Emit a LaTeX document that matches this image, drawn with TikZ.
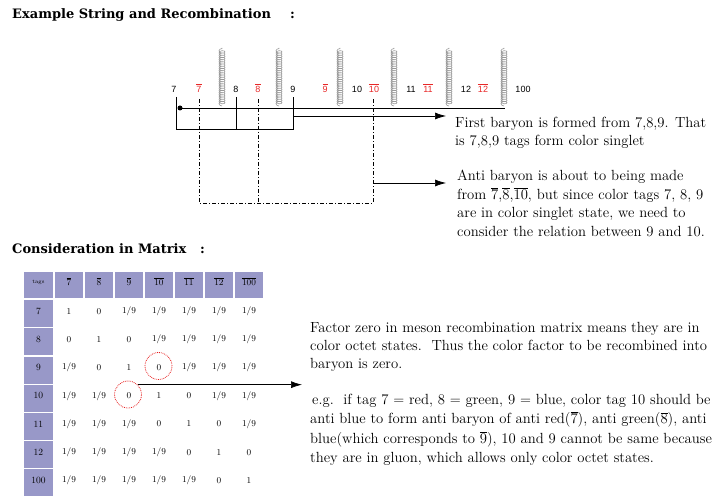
\documentclass[tikz,border=0pt]{standalone}
\usepackage{fontspec}
\newfontfamily\ttlfont{DejaVu Serif}
\newfontfamily\lblfont{Liberation Sans}
\usetikzlibrary{decorations.pathmorphing,arrows.meta}
\definecolor{hdrcol}{RGB}{152,152,200}
\definecolor{tagred}{RGB}{232,40,40}
\definecolor{ringred}{RGB}{230,30,30}
\newcommand\ob[1]{$\overline{\mbox{#1}}$}
\newcommand\mval[1]{\if n#1$1/9$\else$#1$\fi}
\begin{document}
\begin{tikzpicture}[x=1pt,y=-1pt,
  every node/.style={inner sep=0pt},
  lbl/.style={font=\lblfont\fontsize{9}{10}\selectfont},
  rlbl/.style={lbl,text=tagred},
  body/.style={font=\fontsize{14.7}{18.5}\selectfont,anchor=base west},
  ttl/.style={font=\ttlfont\bfseries\fontsize{13}{16}\selectfont,anchor=base west},
  ddash/.style={dash pattern=on 4pt off 2pt on 1pt off 2pt,line width=0.5pt},
  gluon/.style={draw=gray!80,line width=0.6pt,decorate,decoration={coil,aspect=0.6,amplitude=3pt,segment length=2.2pt}},
  arr/.style={-{Latex[length=11pt,width=7pt]},line width=0.7pt},
  cell/.style={font=\fontsize{9.5}{10}\selectfont},
  ring/.style={circle,draw=ringred,densely dotted,line width=0.8pt,minimum size=27pt}
]
\clip (0,0) rectangle (713,497);
% titles
\node[ttl] (title1) at (12,19) {Example String and Recombination};
\node[ttl] (colon1) at (290,19) {:};
\node[ttl] (title2) at (12,254) {Consideration in Matrix};
\node[ttl] (colon2) at (200,254) {:};
% gluons
\foreach \gx [count=\i] in {222,279,340,394,449,504}{
  \coordinate (gb\i) at (\gx,106);
  \coordinate (gt\i) at (\gx,48);
  \draw[gluon] (gb\i) -- (gt\i);
}
% string labels
\node[lbl] (n7) at (174,89) {7};
\node[rlbl] (n7b) at (199,88) {\ob{7}};
\node[lbl] (n8) at (236,89) {8};
\node[rlbl] (n8b) at (258,88) {\ob{8}};
\node[lbl] (n9) at (293,89) {9};
\node[rlbl] (n9b) at (325,88) {\ob{9}};
\node[lbl] (n10) at (357,89) {10};
\node[rlbl] (n10b) at (374,88) {\ob{10}};
\node[lbl] (n11) at (411,89) {11};
\node[rlbl] (n11b) at (428,88) {\ob{11}};
\node[lbl] (n12) at (466,89) {12};
\node[rlbl] (n12b) at (483,88) {\ob{12}};
\node[lbl] (n100) at (523,89) {100};
% string and box
\coordinate (q7) at (180,108);
\coordinate (qend) at (505,108);
\fill (q7) circle (2.5);
\draw[line width=0.8pt] (q7) -- (qend);
\draw[line width=0.8pt] (176,97) -- (176,129) -- (293,129) -- (293,97);
\draw[line width=0.8pt] (236,97) -- (236,129);
% dash-dot lines
\coordinate (d7) at (199,99);
\coordinate (d8) at (258,99);
\coordinate (d10) at (373,99);
\draw[ddash] (d7) -- (199,203) -- (373,203) -- (d10);
\draw[ddash] (d8) -- (258,203);
% arrows to text
\coordinate (a1s) at (293,116);
\coordinate (a1e) at (446,116);
\coordinate (a2s) at (373,183);
\coordinate (a2e) at (446,183);
\draw[arr] (a1s) -- (a1e);
\draw[arr] (a2s) -- (a2e);
% text blocks
\node[body] (t1a) at (455,128) {First baryon is formed from 7,8,9. That};
\node[body] (t1b) at (455,146) {is 7,8,9 tags form color singlet};
\node[body] (t2a) at (457,181) {Anti baryon is about to being made};
\node[body] (t2b) at (457,199.5) {from \ob{7},\ob{8},\ob{10}, but since color tags 7, 8, 9};
\node[body] (t2c) at (457,218) {are in color singlet state, we need to};
\node[body] (t2d) at (457,236.5) {consider the relation between 9 and 10.};
\node[body] (t3a) at (310,333) {Factor zero in meson recombination matrix means they are in};
\node[body] (t3b) at (310,351) {color octet states.\ \ Thus the color factor to be recombined into};
\node[body] (t3c) at (310,369) {baryon is zero.};
\node[body] (t4a) at (312,405) {e.g.\ \ if tag 7 $=$ red, 8 $=$ green, 9 $=$ blue, color tag 10 should be};
\node[body] (t4b) at (310,424) {anti blue to form anti baryon of anti red(\ob{7}), anti green(\ob{8}), anti};
\node[body] (t4c) at (310,443) {blue(which corresponds to \ob{9}), 10 and 9 cannot be same because};
\node[body] (t4d) at (310,462) {they are in gluon, which allows only color octet states.};
% matrix
\fill[hdrcol] (24,272) rectangle (53,298);
\node[font=\fontsize{5.5}{6}\selectfont] (tags) at (38.5,282) {tags};
\foreach \k/\lab in {1/7,2/8,3/9,4/10,5/11,6/12,7/100}{
  \fill[hdrcol] ({25+30*\k},272) rectangle ({53+30*\k},298);
  \node[cell] (h\k) at ({39+30*\k},282) {$\overline{\lab}$};
  \fill[hdrcol] (24,{272+28.2*\k}) rectangle (53,{299+28.2*\k});
  \node[cell] (r\k) at (38.5,{283+28.2*\k}) {\lab};
}
\foreach \r/\row in {1/{1,0,n,n,n,n,n},2/{0,1,0,n,n,n,n},3/{n,0,1,0,n,n,n},4/{n,n,0,1,0,n,n},5/{n,n,n,0,1,0,n},6/{n,n,n,n,0,1,0},7/{n,n,n,n,n,0,1}}{
  \foreach \v [count=\c] in \row {
    \node[cell] (m\r-\c) at ({39+30*\c},{283+28.2*\r}) {\mval{\v}};
  }
}
\node[ring] (c1) at (158.5,366) {};
\node[ring] (c2) at (128,394.5) {};
\coordinate (a3e) at (302,385);
\draw[arr] (c2.45) -- (c2.45 -| a3e);
\end{tikzpicture}
\end{document}
